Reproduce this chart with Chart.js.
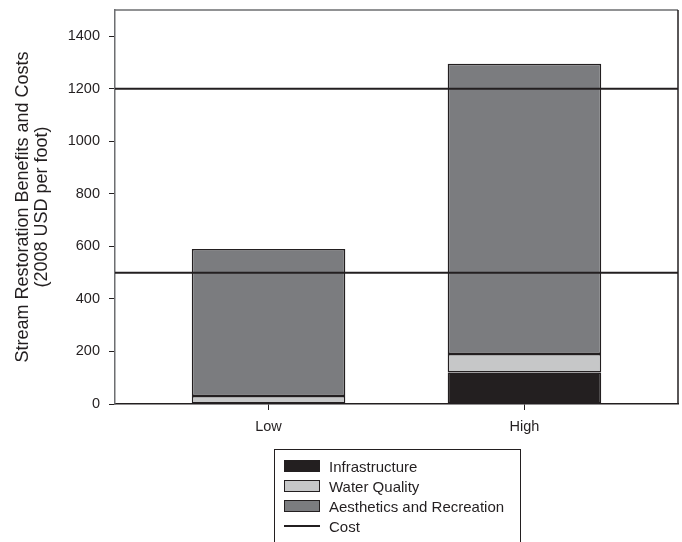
<!DOCTYPE html>
<html>
<head>
<meta charset="utf-8">
<script src="https://cdn.jsdelivr.net/npm/chart.js@4/dist/chart.umd.min.js"></script>
<style>
  html, body { margin: 0; padding: 0; background: #fff; overflow: hidden; }
  #wrap { position: relative; width: 682px; height: 542px; }
  #legend {
    position: absolute; left: 274px; top: 449px; width: 247px; height: 120px;
    border: 1px solid #231f20; box-sizing: border-box;
    font-family: "Liberation Sans", Arial, sans-serif; font-size: 15px; color: #231f20;
    padding-top: 6px;
  }
  .item { display: flex; align-items: center; height: 20px; padding-left: 9px; }
  .swatch { width: 36px; height: 12px; box-sizing: border-box; border: 1.5px solid #231f20; margin-right: 9px; }
  .lineSwatch { width: 36px; height: 0; border-top: 2px solid #231f20; margin-right: 9px; }
</style>
</head>
<body>
<div id="wrap">
  <canvas id="chart" width="682" height="542"></canvas>
  <div id="legend"></div>
</div>
<script>
// ===================== Data =====================
const CATEGORIES = ["Low", "High"];
const CATEGORY_POS = [1, 2];

const INFRASTRUCTURE = [0, 120];
const WATER_QUALITY = [30, 70];
const AESTHETICS = [560, 1105];

const COSTS = [500, 1200];

const Y_TICKS = [0, 200, 400, 600, 800, 1000, 1200, 1400];
const Y_MAX = 1500;
const X_MIN = 0.4;
const X_MAX = 2.6;

// ===================== Styles =====================
const INK = "#231f20";
const FONT = "'Liberation Sans', Arial, sans-serif";

function barSet(label, values, color) {
  return {
    type: "bar",
    label: label,
    data: CATEGORY_POS.map((x, i) => ({ x: x, y: values[i] })),
    backgroundColor: color,
    borderColor: INK,
    borderWidth: 1.5,
    borderSkipped: false,
    barPercentage: 0.6,
    categoryPercentage: 1,
    order: 1,
  };
}

function costSet(value, i) {
  return {
    type: "line",
    label: "Cost",
    stack: "cost" + i,
    data: [{ x: X_MIN, y: value }, { x: X_MAX, y: value }],
    borderColor: INK,
    borderWidth: 2,
    pointRadius: 0,
    fill: false,
    order: 0,
    hideInLegend: i > 0,
  };
}

// frame around the plot area (top and right sides)
const framePlugin = {
  id: "frame",
  afterDraw(chart) {
    const { ctx, chartArea: a } = chart;
    ctx.save();
    ctx.lineWidth = 1.5;
    ctx.strokeStyle = "#6d6e71";
    ctx.beginPath();
    ctx.moveTo(a.left, a.top);
    ctx.lineTo(a.right, a.top);
    ctx.stroke();
    ctx.strokeStyle = INK;
    ctx.beginPath();
    ctx.moveTo(a.right, a.top);
    ctx.lineTo(a.right, a.bottom);
    ctx.stroke();
    ctx.restore();
  },
};

const chart = new Chart(document.getElementById("chart"), {
  data: {
    datasets: [
      barSet("Infrastructure", INFRASTRUCTURE, INK),
      barSet("Water Quality", WATER_QUALITY, "#c6c7c8"),
      barSet("Aesthetics and Recreation", AESTHETICS, "#7b7c7f"),
      ...COSTS.map(costSet),
    ],
  },
  options: {
    responsive: false,
    animation: false,
    layout: { padding: { top: 10, right: 4 } },
    plugins: {
      legend: { display: false },
      tooltip: { enabled: false },
    },
    scales: {
      x: {
        type: "linear",
        stacked: true,
        offset: false,
        min: X_MIN,
        max: X_MAX,
        afterFit: (s) => { s.height = 138; },
        afterBuildTicks: (s) => { s.ticks = CATEGORY_POS.map((v) => ({ value: v })); },
        border: { color: INK, width: 1.5 },
        grid: { offset: false, drawOnChartArea: false, drawTicks: true, tickLength: 6, color: INK, tickWidth: 1 },
        ticks: {
          color: INK,
          padding: 8,
          font: { family: FONT, size: 14.5 },
          callback: (v) => CATEGORIES[CATEGORY_POS.indexOf(v)],
        },
      },
      y: {
        stacked: true,
        min: 0,
        max: Y_MAX,
        afterFit: (s) => { s.width = 115; s.paddingTop = 0; },
        afterBuildTicks: (s) => { s.ticks = Y_TICKS.map((v) => ({ value: v })); },
        border: { color: "#6d6e71", width: 1.5 },
        grid: { drawOnChartArea: false, drawTicks: true, tickLength: 6, color: INK, tickWidth: 1 },
        ticks: {
          color: INK,
          padding: 9,
          font: { family: FONT, size: 14.5 },
          callback: (v) => String(v),
        },
        title: {
          display: true,
          text: ["Stream Restoration Benefits and Costs", "(2008 USD per foot)"],
          color: INK,
          font: { family: FONT, size: 18, lineHeight: 1.03 },
          padding: { top: 14, bottom: 0 },
        },
      },
    },
  },
  plugins: [framePlugin],
});

// ===================== HTML Legend =====================
const legendBox = document.getElementById("legend");
chart.data.datasets.forEach((ds) => {
  if (ds.hideInLegend) return;
  const row = document.createElement("div");
  row.className = "item";
  const sw = document.createElement("span");
  if (ds.type === "line") {
    sw.className = "lineSwatch";
  } else {
    sw.className = "swatch";
    sw.style.background = ds.backgroundColor;
  }
  const txt = document.createElement("span");
  txt.textContent = ds.label;
  row.appendChild(sw);
  row.appendChild(txt);
  legendBox.appendChild(row);
});
</script>
</body>
</html>
